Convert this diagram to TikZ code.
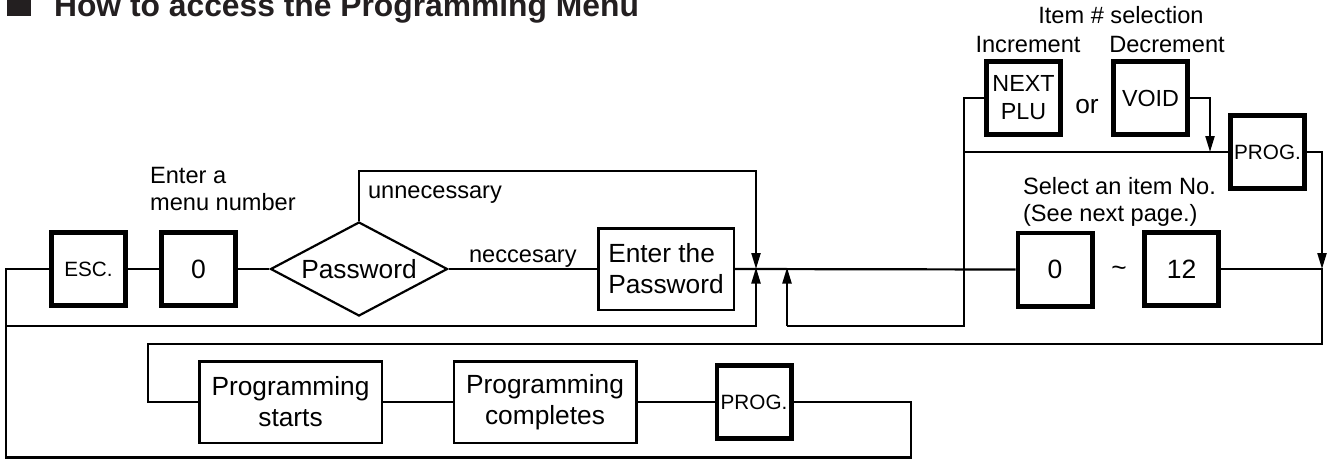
\documentclass[tikz,border=0pt]{standalone}
\usepackage{fontspec}
\setmainfont{Liberation Sans}
\usetikzlibrary{arrows.meta,shapes.geometric}
\definecolor{titlecol}{HTML}{231F20}
\newcommand\fsBox{\fontsize{26.3}{31}\selectfont}
\newcommand\fsLbl{\fontsize{23.6}{27}\selectfont}
\newcommand\fsKey{\fontsize{20.7}{24}\selectfont}
\newcommand\fsKeyM{\fontsize{23.3}{28}\selectfont}
\newcommand\fsNum{\fontsize{26.5}{31}\selectfont}
\begin{document}
\begin{tikzpicture}[x=1pt,y=-1pt,
  line width=2.2pt, line join=miter,
  keybox/.style={draw, line width=4.6pt, minimum width=74.4pt, minimum height=73.4pt, inner sep=0pt, align=center},
  thinbox/.style={draw, line width=2.5pt, inner sep=0pt, align=left, font=\fsBox, minimum height=81.5pt},
  lbl/.style={inner sep=0pt, font=\fsLbl},
  arr/.style={-{Triangle[length=16pt,width=9pt]}}]
\useasboundingbox (0,0) rectangle (1331,459);
% title
\node[fill=titlecol, minimum size=24pt, inner sep=0pt] (sq) at (19,4) {};
\node[anchor=base west, inner sep=0pt, text=titlecol, font=\fontsize{31.8}{36}\selectfont\bfseries] (title) at (53,16) {How to access the Programming Menu};
% main row
\node[keybox, font=\fsKey] (esc) at (88.5,269) {ESC.};
\node[keybox, font=\fsNum] (zero) at (198.5,269) {0};
\node[draw, shape=diamond, aspect=1.88, minimum width=177pt, minimum height=94pt, inner sep=0pt, font=\fsBox] (pw) at (359,269) {Password};
\node[thinbox, minimum width=135.5pt] (pass) at (666,269) {Enter the\\Password};
\node[keybox, font=\fsNum] (rzero) at (1055,269.5) {0};
\node[lbl, font=\fsBox] (tilde) at (1119,271) {\char`\~};
\node[keybox, font=\fsNum] (r12) at (1181.5,269) {12};
% top right
\node[keybox, font=\fsKeyM] (next) at (1023.5,98) {NEXT\\PLU};
\node[keybox, font=\fsKeyM] (void) at (1150.5,98) {VOID};
\node[lbl, font=\fsBox, anchor=base] (or) at (1087,113) {or};
\node[keybox, font=\fsKey] (progtop) at (1267.5,152) {PROG.};
% bottom row
\node[thinbox, align=center, minimum width=182.5pt] (start) at (290.5,402) {Programming\\starts};
\node[thinbox, align=center, minimum width=182.5pt] (complete) at (545,402) {Programming\\completes};
\node[keybox, font=\fsKey] (progbot) at (754,402) {PROG.};
% labels
\node[lbl, anchor=north west, align=left] (menu) at (149,166) {Enter a\\menu number};
\node[lbl, anchor=base west] (unn) at (367,198) {unnecessary};
\node[lbl, anchor=base west] (nec) at (468,262) {neccesary};
\node[lbl, anchor=base] (itemsel) at (1121,23) {Item \# selection};
\node[lbl, anchor=base] (inc) at (1028,52) {Increment};
\node[lbl, anchor=base] (dec) at (1167,52) {Decrement};
\node[lbl, anchor=north west, align=left] (sel) at (1022,176) {Select an item No.\\(See next page.)};
% coordinates
\coordinate (j1) at (756,269);
\coordinate (j2) at (787,269);
\coordinate (j3) at (1322,269);
% connectors
\draw (esc.west) -- (6,269) -- (6,457.5) -- (911,457.5) -- (911,402) -- (progbot.east);
\draw (esc.east) -- (zero.west);
\draw (zero.east) -- (pw.west);
\draw (pw.east) -- (pass.west);
\draw[arr] (pw.north) -- (359,171) -- (756,171) -- (j1);
\draw (pass.east) -- (rzero.west);
\draw[arr] (6,326) -- (756,326) -- ([yshift=1.5pt]j1);
\draw (next.west) -- (964,98) -- (964,326) -- (787,326);
\draw[arr] (787,326) -- ([yshift=1.5pt]j2);
\draw (964,152) -- (progtop.west);
\draw[arr] (void.east) -- (1210,98) -- (1210,152);
\draw[arr] (progtop.east) -- (1322,152) -- (j3);
\draw (r12.east) -- (j3) -- (1322,344) -- (148,344) -- (148,402) -- (start.west);
\draw (start.east) -- (complete.west);
\draw (complete.east) -- (progbot.west);
\end{tikzpicture}
\end{document}
